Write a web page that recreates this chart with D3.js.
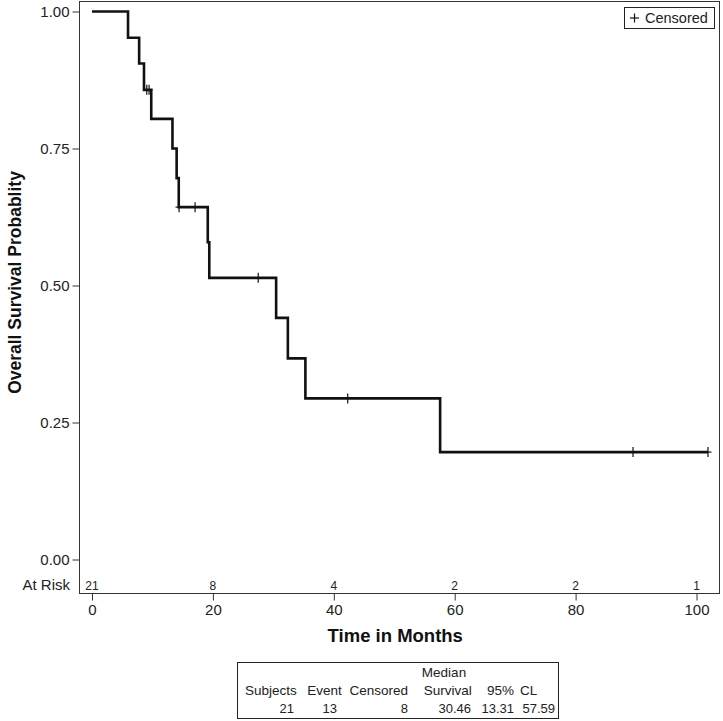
<!DOCTYPE html>
<html>
<head>
<meta charset="utf-8">
<script src="https://cdn.jsdelivr.net/npm/d3@7"></script>
<style>
  html, body { margin: 0; padding: 0; background: #fff; }
  svg { display: block; font-family: Arial, "Liberation Sans", sans-serif; }
</style>
</head>
<body>
<svg id="chart" width="723" height="721"></svg>
<script>
// ---- data ----
const eventTimes = [5.96, 7.8, 8.6, 9.8, 13.31, 14.0, 14.35, 19.15, 19.4, 30.46, 32.4, 35.3, 57.59];
const eventSurv  = [0.952, 0.905, 0.857, 0.804, 0.750, 0.696, 0.643, 0.579, 0.514, 0.441, 0.367, 0.294, 0.196];
const censorTimes = [9.06, 9.44, 14.4, 17.05, 27.5, 42.3, 89.5, 101.9];
const censorSurv  = [0.857, 0.857, 0.643, 0.643, 0.514, 0.294, 0.196, 0.196];
const lastTime = 101.9;
const xTicks = [0, 20, 40, 60, 80, 100];
const yTicks = [0, 0.25, 0.5, 0.75, 1.0];
const atRiskTimes = [0, 20, 40, 60, 80, 100];
const atRiskCounts = [21, 8, 4, 2, 2, 1];
const tableHeaders = ["Subjects", "Event", "Censored", "Survival", "95%", "CL"];
const tableValues = ["21", "13", "8", "30.46", "13.31", "57.59"];

// ---- layout ----
const svg = d3.select("#chart");
const frame = {left: 79, right: 720, top: 1, bottom: 593};
const x = d3.scaleLinear().domain([0, 100]).range([92, 696.5]);
const y = d3.scaleLinear().domain([0, 1]).range([559.5, 11.5]);

// frame
svg.append("rect")
  .attr("x", frame.left + 0.5).attr("y", frame.top + 0.5)
  .attr("width", frame.right - frame.left - 1).attr("height", frame.bottom - frame.top)
  .attr("fill", "none").attr("stroke", "#333").attr("stroke-width", 1);

// y axis
const yAxis = d3.axisLeft(y).tickValues(yTicks).tickFormat(d3.format(".2f")).tickSize(7).tickPadding(3);
const gy = svg.append("g").attr("transform", `translate(${frame.left + 0.5},0)`).call(yAxis);
gy.select(".domain").remove();
gy.selectAll("line").attr("stroke", "#333");
gy.selectAll("text").attr("font-size", "15px").attr("fill", "#222").attr("font-family", "Arial, 'Liberation Sans', sans-serif");

// x axis
const xAxis = d3.axisBottom(x).tickValues(xTicks).tickSize(7).tickPadding(4);
const gx = svg.append("g").attr("transform", `translate(0,${frame.bottom + 0.5})`).call(xAxis);
gx.select(".domain").remove();
gx.selectAll("line").attr("stroke", "#333");
gx.selectAll("text").attr("font-size", "15px").attr("fill", "#222").attr("font-family", "Arial, 'Liberation Sans', sans-serif");

// axis titles
svg.append("text").attr("x", x(50) + 1).attr("y", 642)
  .attr("text-anchor", "middle").attr("font-size", "18.5px").attr("font-weight", "bold").attr("fill", "#111")
  .text("Time in Months");
svg.append("text").attr("transform", `translate(21,${(y(0) + y(1)) / 2 - 3}) rotate(-90)`)
  .attr("text-anchor", "middle").attr("font-size", "17.5px").attr("font-weight", "bold").attr("fill", "#111")
  .text("Overall Survival Probablity");

// at risk
svg.append("text").attr("x", 70).attr("y", 590).attr("text-anchor", "end")
  .attr("font-size", "15px").attr("fill", "#222").text("At Risk");
svg.append("g").selectAll("text").data(atRiskTimes).join("text")
  .attr("x", d => x(d)).attr("y", 589.5).attr("text-anchor", "middle")
  .attr("font-size", "12px").attr("fill", "#222")
  .text((d, i) => atRiskCounts[i]);

// KM step curve
const pts = [[0, 1]].concat(eventTimes.map((t, i) => [t, eventSurv[i]])).concat([[lastTime, eventSurv[eventSurv.length - 1]]]);
const line = d3.line().x(d => x(d[0])).y(d => y(d[1])).curve(d3.curveStepAfter);
svg.append("path").datum(pts).attr("d", line)
  .attr("fill", "none").attr("stroke", "#111").attr("stroke-width", 2.6).attr("stroke-linejoin", "miter");

// censor marks
svg.append("g").selectAll("line").data(censorTimes).join("line")
  .attr("x1", d => x(d)).attr("x2", d => x(d))
  .attr("y1", (d, i) => y(censorSurv[i]) - 5).attr("y2", (d, i) => y(censorSurv[i]) + 5)
  .attr("stroke", "#111").attr("stroke-width", 1.2);
svg.append("g").selectAll("line").data(censorTimes).join("line")
  .attr("x1", d => x(d) - 3.5).attr("x2", d => x(d) + 3.5)
  .attr("y1", (d, i) => y(censorSurv[i])).attr("y2", (d, i) => y(censorSurv[i]))
  .attr("stroke", "#111").attr("stroke-width", 1.2);

// legend
const lg = svg.append("g");
lg.append("rect").attr("x", 624.5).attr("y", 7.5).attr("width", 90).attr("height", 21)
  .attr("fill", "#fff").attr("stroke", "#222").attr("stroke-width", 1);
lg.append("line").attr("x1", 630).attr("x2", 639).attr("y1", 18).attr("y2", 18).attr("stroke", "#111").attr("stroke-width", 1.2);
lg.append("line").attr("x1", 634.5).attr("x2", 634.5).attr("y1", 13.5).attr("y2", 22.5).attr("stroke", "#111").attr("stroke-width", 1.2);
lg.append("text").attr("x", 645).attr("y", 23).attr("font-size", "14.5px").attr("fill", "#222").text("Censored");

// summary table
const tb = svg.append("g");
tb.append("rect").attr("x", 237.5).attr("y", 662.5).attr("width", 321).attr("height", 56)
  .attr("fill", "#fff").attr("stroke", "#222").attr("stroke-width", 1);
const headRight = [296.7, 341.7, 408, 471.7, 514, 520];
const valRight = [294, 337, 408, 471, 514, 555];
tb.append("text").attr("x", 444).attr("y", 677).attr("text-anchor", "middle")
  .attr("font-size", "13.5px").attr("fill", "#222").text("Median");
tb.selectAll("text.h").data(tableHeaders).join("text").attr("class", "h")
  .attr("x", (d, i) => headRight[i]).attr("y", 695)
  .attr("text-anchor", (d, i) => i === 5 ? "start" : "end")
  .attr("font-size", "13.5px").attr("fill", "#222").text(d => d);
tb.selectAll("text.v").data(tableValues).join("text").attr("class", "v")
  .attr("x", (d, i) => valRight[i]).attr("y", 713)
  .attr("text-anchor", "end")
  .attr("font-size", "13px").attr("fill", "#222").text(d => d);
</script>
</body>
</html>
